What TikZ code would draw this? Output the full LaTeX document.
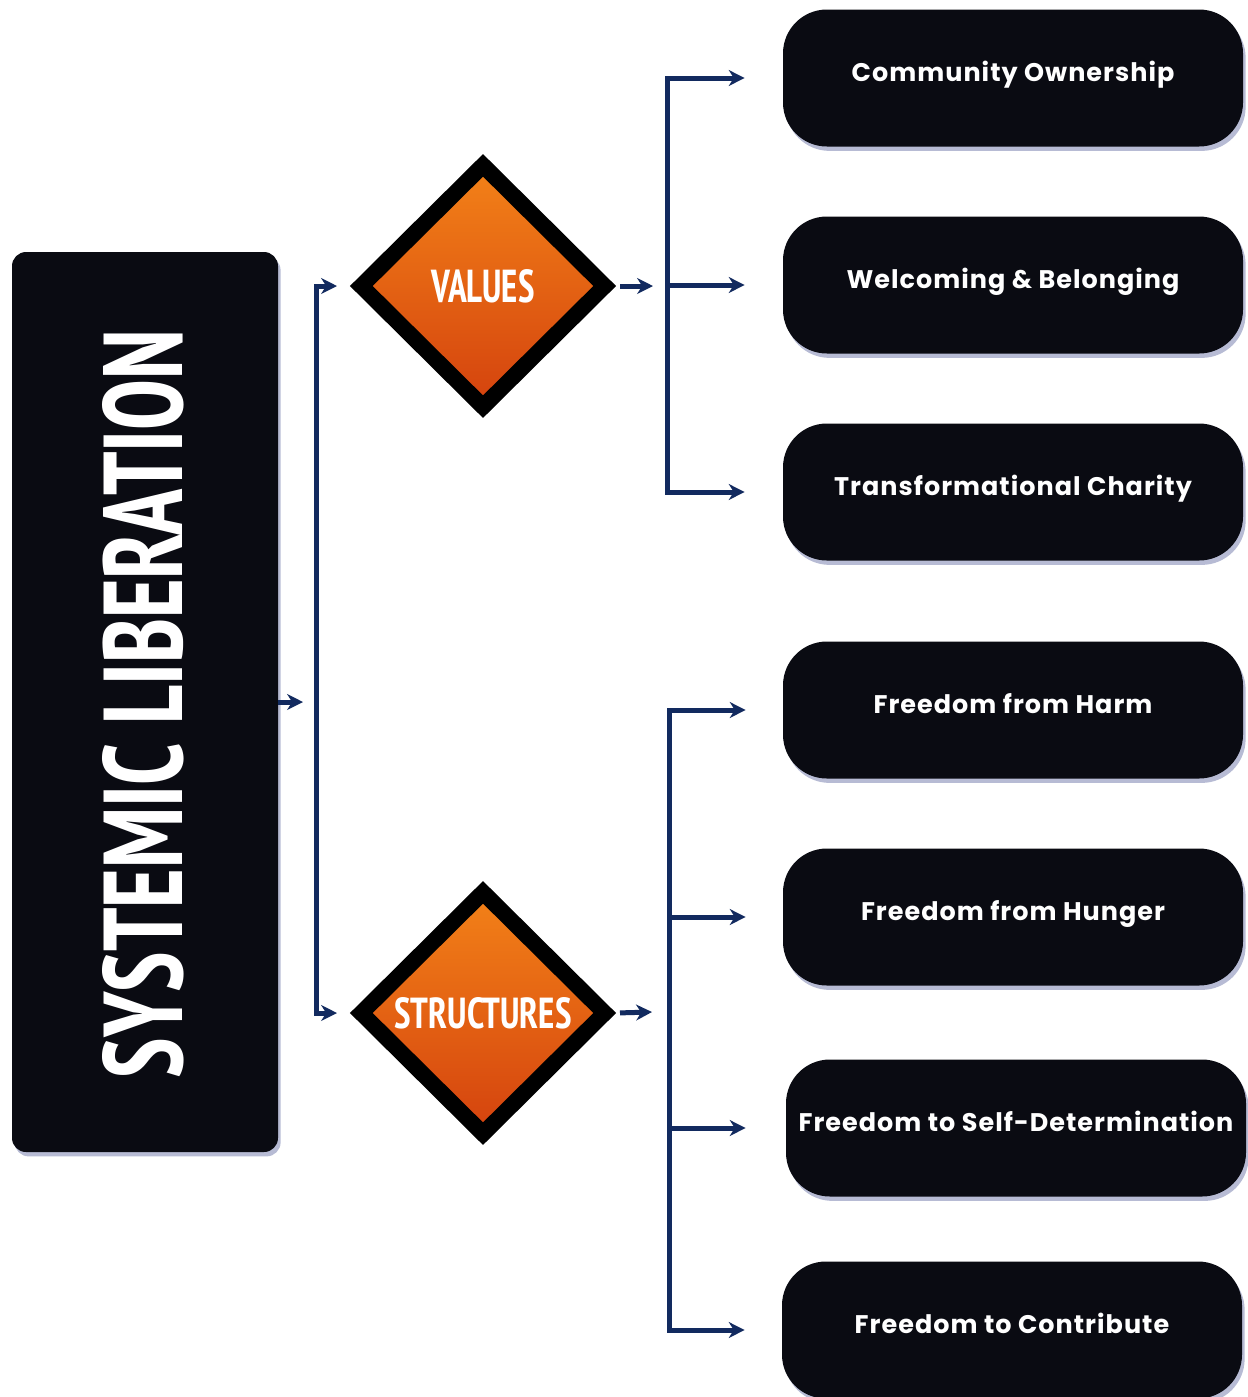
\documentclass[tikz,border=0pt]{standalone}
\usepackage{fontspec}
\usepackage{graphicx}
\usepackage{tikz}
\usetikzlibrary{arrows.meta, shapes.geometric, shadows}
\newfontfamily\boxfont{Poppins}[LetterSpace=4]
\newfontfamily\titlefont{PT Sans Narrow}

\definecolor{navyline}{RGB}{18,42,95}
\definecolor{boxblack}{RGB}{10,11,18}
\definecolor{orangetop}{RGB}{243,130,24}
\definecolor{orangebot}{RGB}{212,66,14}
\definecolor{shadowblue}{RGB}{95,105,160}

\newlength\pxl
\setlength\pxl{0.02cm}

\tikzset{
	softshadow/.style={drop shadow={shadow xshift=1.5pt, shadow yshift=-2.5pt,
		fill=shadowblue, opacity=0.45}},
	mainbox/.style={rectangle, rounded corners=8pt, fill=boxblack,
		minimum width=266\pxl, minimum height=900\pxl, softshadow},
	choicebox/.style={diamond, draw=black, line width=16\pxl, inner sep=0pt,
		top color=orangetop, bottom color=orangebot,
		minimum width=250\pxl, minimum height=248\pxl, softshadow},
	itembox/.style={rectangle, rounded corners=25pt, fill=boxblack,
		minimum width=460\pxl, minimum height=137\pxl, inner sep=0pt,
		text=white, font=\boxfont\bfseries\fontsize{14.5}{17}\selectfont,
		text height=11pt, text depth=6.8pt, softshadow},
	link/.style={draw=navyline, line width=5\pxl,
		-{Stealth[length=9pt, width=9pt, inset=2.8pt]}},
}

\begin{document}
\begin{tikzpicture}[x=0.02cm, y=-0.02cm]
	\useasboundingbox (0,0) rectangle (1248,1397);

	% Caja principal
	\node[mainbox] (sysbox) at (145,702) {};
	\node[rotate=90, text=white, inner sep=0pt] (systitle) at (143,704)
		{\resizebox{748\pxl}{80\pxl}{\titlefont\bfseries SYSTEMIC LIBERATION}};

	% Rombos
	\node[choicebox] (values) at (483,286)
		{\resizebox{103\pxl}{33\pxl}{\color{white}\titlefont\bfseries VALUES}};
	\node[choicebox] (structures) at (483,1013)
		{\resizebox{177\pxl}{31\pxl}{\color{white}\titlefont\bfseries STRUCTURES}};

	% Cajas de la derecha
	\node[itembox] (co) at (1013,78) {Community Ownership};
	\node[itembox] (wb) at (1013,285) {Welcoming \& Belonging};
	\node[itembox] (tc) at (1013,492) {Transformational Charity};
	\node[itembox] (fh) at (1013,710) {Freedom from Harm};
	\node[itembox] (fu) at (1013,917) {Freedom from Hunger};
	\node[itembox] (sd) at (1016,1128) {Freedom to Self-Determination};
	\node[itembox] (fc) at (1012,1330) {Freedom to Contribute};

	% Conectores
	\coordinate (sysout) at (303,702);
	\coordinate (sysfork) at (316,702);
	\draw[link] (sysbox.east) -- (sysout);
	\draw[link, shorten >=13\pxl] (sysfork) |- (values.west);
	\draw[link, shorten >=13\pxl] (sysfork) |- (structures.west);

	\coordinate (valout) at (653,286);
	\coordinate (valfork) at (667,286);
	\draw[link, shorten <=4\pxl] (values.east) -- (valout);
	\foreach \n in {co, wb, tc}
		\draw[link, shorten >=38\pxl] (valfork) |- (\n.west);

	\coordinate (strout) at (652,1012);
	\coordinate (strfork) at (669,1012);
	\draw[link, shorten <=4\pxl] (structures.east) -- (strout);
	\foreach \n in {fh, fu, fc}
		\draw[link, shorten >=37\pxl] (strfork) |- (\n.west);
	\draw[link, shorten >=40\pxl] (strfork) |- (sd.west);
\end{tikzpicture}
\end{document}
